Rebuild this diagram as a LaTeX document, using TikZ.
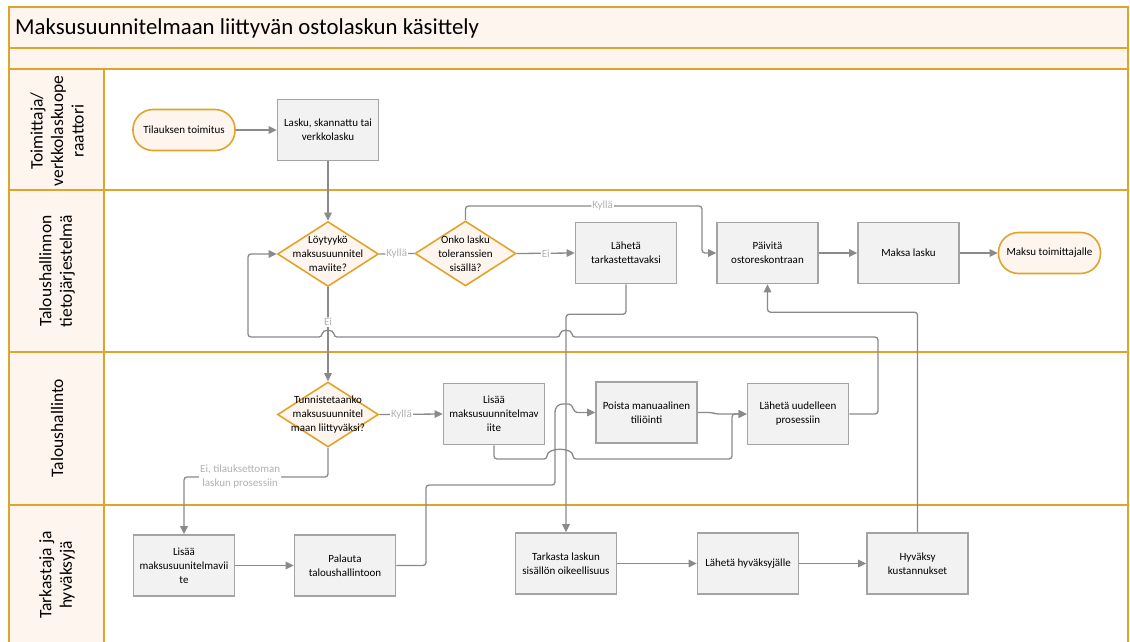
\documentclass[tikz,border=0pt]{standalone}
\usepackage{fontspec}
\setmainfont{Carlito}
\usetikzlibrary{arrows.meta,shapes.geometric,calc}

\definecolor{lanegold}{HTML}{E1A42A}
\definecolor{cream}{HTML}{FEF6EE}
\definecolor{boxfill}{HTML}{F2F2F2}
\definecolor{boxline}{HTML}{A3A3A3}
\definecolor{flow}{HTML}{8A8A8A}
\definecolor{lbl}{HTML}{B2B2B2}

\newcommand{\nodefont}{\fontsize{11}{14}\selectfont}

\begin{document}
\begin{tikzpicture}[x=1pt,y=-1pt,
  laneline/.style={draw=lanegold, line width=2.2pt},
  lanetitle/.style={rotate=90, align=center, font=\fontsize{17.5}{20.5}\selectfont},
  procbox/.style={draw=boxline, fill=boxfill, line width=1.6pt, minimum width=101pt,
    minimum height=61pt, inner sep=1pt, align=center, font=\nodefont},
  terminal/.style={draw=lanegold, fill=cream, line width=1.6pt, rounded corners=20pt,
    minimum width=102pt, minimum height=41pt, inner sep=1pt, align=center, font=\nodefont},
  decision/.style={diamond, draw=lanegold, fill=cream, line width=1.6pt,
    minimum width=101pt, minimum height=65pt, inner sep=0pt},
  dtext/.style={align=center, font=\nodefont, inner sep=0pt},
  flowline/.style={draw=flow, line width=1.3pt, rounded corners=3pt},
  flowarrow/.style={flowline, -{Triangle[length=8pt,width=7.5pt]}},
  edgelbl/.style={font=\nodefont, text=lbl, fill=white, inner sep=1pt, align=center}]

\useasboundingbox (0,0) rectangle (1130,642);
\fill[white] (0,0) rectangle (1130,642);

% pool header and lane title column
\fill[cream] (9,7) rectangle (1128,69);
\fill[cream] (9,69) rectangle (104,642);
\draw[laneline] (9,642) -- (9,7) -- (1128,7) -- (1128,642);
\foreach \yy in {48,69,190,352,505} \draw[laneline] (9,\yy) -- (1128,\yy);
\draw[laneline] (104,69) -- (104,642);

\node[anchor=west, font=\fontsize{22.8}{26}\selectfont, inner sep=0pt] (title) at (15,28)
  {Maksusuunnitelmaan liittyvän ostolaskun käsittely};

% lane titles
\node[lanetitle] (lane1) at (57,131) {Toimittaja/\\verkkolaskuope\\raattori};
\node[lanetitle] (lane2) at (57,271) {Taloushallinnon\\tietojärjestelmä};
\node[lanetitle] (lane3) at (57,428) {Taloushallinto};
\node[lanetitle] (lane4) at (57,575) {Tarkastaja ja\\hyväksyjä};

% supplier lane
\node[terminal] (t1) at (184,130) {Tilauksen toimitus};
\node[procbox] (b1) at (328,130) {Lasku, skannattu tai\\verkkolasku};

% accounting system lane
\node[decision] (d1) at (328,254) {};
\node[dtext] at (d1) {Löytyykö\\maksusuunnitel\\maviite?};
\node[decision] (d2) at (465.5,253.5) {};
\node[dtext] at (d2) {Onko lasku\\toleranssien\\sisällä?};
\node[procbox] (b2) at (626,253) {Lähetä\\tarkastettavaksi};
\node[procbox] (b3) at (767.5,253) {Päivitä\\ostoreskontraan};
\node[procbox] (b4) at (908.5,253) {Maksa lasku};
\node[terminal] (t2) at (1049.5,253) {Maksu toimittajalle};

% accounting lane
\node[decision] (d3) at (328,414.5) {};
\node[dtext] at (d3) {Tunnistetaanko\\maksusuunnitel\\maan liittyväksi?};
\node[procbox] (b5) at (494,414) {Lisää\\maksusuunnitelmav\\iite};
\node[procbox] (b6) at (646.5,412.5) {Poista manuaalinen\\tiliöinti};
\node[procbox] (b7) at (798,414) {Lähetä uudelleen\\prosessiin};

% reviewer lane
\node[procbox] (b8) at (184,565.5) {Lisää\\maksusuunitelmavii\\te};
\node[procbox] (b9) at (345,565.5) {Palauta\\taloushallintoon};
\node[procbox] (b10) at (566,563.5) {Tarkasta laskun\\sisällön oikeellisuus};
\node[procbox] (b11) at (748,563.5) {Lähetä hyväksyjälle};
\node[procbox] (b12) at (917.5,563.5) {Hyväksy\\kustannukset};

% connectors
\draw[flowarrow] (t1) -- (b1);
\draw[flowarrow] (b1) -- (d1);
\draw[flowline] (d1.east) -- node[edgelbl]{Kyllä} (d2.west);
\draw[flowarrow] (d2.east) -- node[edgelbl]{Ei} (b2.west);
\draw[flowarrow] (d2.north) |- node[edgelbl, pos=0.79]{Kyllä} (702,206) |- (b3.west);
\draw[flowarrow] (d1.south) -- node[edgelbl, pos=0.37]{Ei} (d3.north);
\draw[flowarrow] (b7.east) -- (878,414) -- (878,337) -- (572,337)
  .. controls (572,329) and (560,329) .. (560,337) -- (334,337)
  .. controls (334,329) and (322,329) .. (322,337) -- (248,337) |- (d1.west);
\draw[flowarrow] (b2.south) -- ++(0,30) -| (b10.north);
\draw[flowarrow] (b3) -- (b4);
\draw[flowarrow] (b4) -- (t2);
\draw[flowarrow] (b12.north) -- ++(0,-220) -| (b3.south);
\draw[flowarrow] (d3.east) -- node[edgelbl, pos=0.35]{Kyllä} (b5.west);
\draw[flowarrow] (d3.south) -- (328,477)
  -- node[edgelbl, pos=0.61]{Ei, tilauksettoman\\laskun prosessiin} (184,477) -- (b8.north);
\draw[flowarrow] (b5.south) -- (494,459) -- (547,459)
  .. controls (547,447) and (573,447) .. (573,459) -- (732,459) -- (732,414) -- (b7.west);
\draw[flowarrow] (b6.east) -- (712,412.5) -- (716,414) -- (b7.west);
\draw[flowarrow] (b9.east) -- (426,565.5) -- (426,485) -- (555,485) -- (555,416)
  .. controls (555,406) and (559,404) .. (566,404)
  .. controls (573,404) and (573,412.5) .. (580,412.5) -- (b6.west);
\draw[flowarrow] (b8) -- (b9);
\draw[flowarrow] (b10) -- (b11);
\draw[flowarrow] (b11) -- (b12);
\end{tikzpicture}
\end{document}
